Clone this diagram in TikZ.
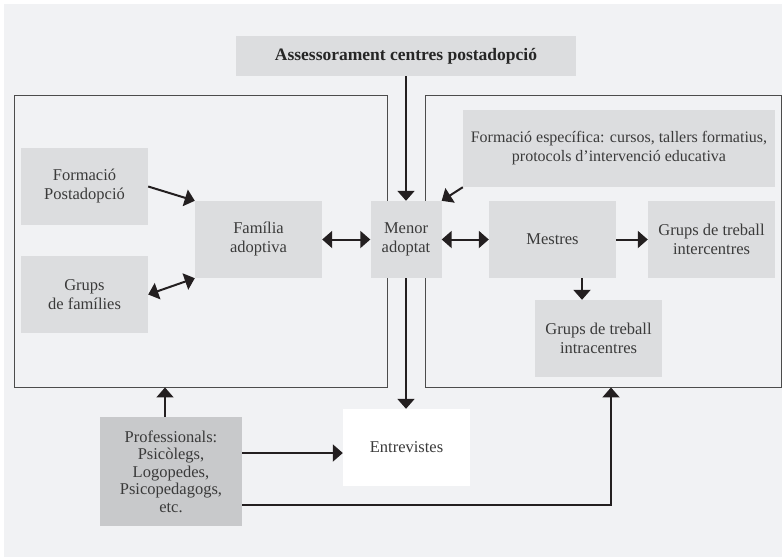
\documentclass[tikz,border=0pt]{standalone}
\usepackage{fontspec}
\setmainfont{Liberation Serif}
\usepackage{tikz}
\usetikzlibrary{arrows.meta}
\usetikzlibrary{backgrounds}
\definecolor{bgcol}{HTML}{F1F2F4}
\definecolor{boxcol}{HTML}{DCDDDF}
\definecolor{profcol}{HTML}{C8C9CB}
\definecolor{txtcol}{HTML}{3A3A3A}
\definecolor{arrcol}{HTML}{231F20}
\tikzstyle{block}=[rectangle,fill=boxcol,inner sep=0mm,minimum width=127pt,minimum height=77pt,align=center,text=txtcol,font=\fontsize{16.5}{19}\selectfont]
\tikzstyle{frame}=[rectangle,draw=black!70,line width=0.9pt,inner sep=0mm]
\tikzstyle{arr}=[draw=arrcol,line width=2pt,-{Triangle[length=10pt,width=17pt]}]
\tikzstyle{darr}=[draw=arrcol,line width=2pt,{Triangle[length=10pt,width=17pt]}-{Triangle[length=10pt,width=17pt]}]

\begin{document}
\begin{tikzpicture}[x=1pt,y=-1pt]
      \useasboundingbox (0,0) rectangle (782,558);
      \fill[bgcol] (4,4) rectangle (782,557);
      % frames
      \node[frame,minimum width=373pt,minimum height=292pt] at (200.5,241) (lframe) {};
      \node[frame,minimum width=356pt,minimum height=292pt] at (603,241) (rframe) {};
      % boxes
      \node[block,minimum width=340pt,minimum height=40pt,text=black!85,font=\fontsize{17.5}{19}\selectfont\bfseries] at (406,56) (assess) {Assessorament centres postadopció};
      \node[block] at (84.5,186.5) (fpost) {Formació\\Postadopció};
      \node[block] at (84.5,294.5) (gfam) {Grups\\de famílies};
      \node[block] at (258.5,239.5) (famil) {Família\\adoptiva};
      \node[block,minimum width=71pt] at (406,239.5) (menor) {Menor\\adoptat};
      \node[block] at (552.5,239.5) (mestres) {Mestres};
      \node[block] at (711.5,239.5) (inter) {Grups de treball\\intercentres};
      \node[block,minimum width=312pt,font=\fontsize{16}{19}\selectfont] at (619,148.5) (fesp) {Formació específica: cursos, tallers formatius,\\protocols d’intervenció educativa};
      \node[block] at (598.5,338.5) (intra) {Grups de treball\\intracentres};
      \node[block,fill=profcol,minimum width=142pt,minimum height=109pt,font=\fontsize{16.5}{17.5}\selectfont] at (171,471.5) (prof) {Professionals:\\Psicòlegs,\\Logopedes,\\Psicopedagogs,\\etc.};
      \node[block,fill=white] at (406.5,447.5) (entrev) {Entrevistes};
      % connectors
      \draw[arr] (assess.south) -- (assess.south |- menor.north);
      \draw[arr] (fesp.south west) -- (menor.north east);
      \draw[arr] (fpost.east) -- (famil.north west);
      \draw[darr] (gfam.east) -- (famil.south west);
      \draw[darr] (famil.east) -- (menor.west);
      \draw[darr] (menor.east) -- (mestres.west);
      \draw[arr] (mestres.east) -- (inter.west);
      \draw[arr] ([xshift=29.5pt]mestres.south) -- ([xshift=29.5pt]mestres.south |- intra.north);
      \draw[arr] (menor.south) -- (menor.south |- entrev.north);
      \draw[arr] ([xshift=-6pt]prof.north) -- ([xshift=-6pt]prof.north |- lframe.south);
      \draw[arr] ([yshift=18.5pt]prof.east) -- ([yshift=18.5pt]prof.east -| entrev.west);
      \draw[arr] ([yshift=-33.5pt]prof.east) -| ([xshift=8pt]rframe.south);
    \end{tikzpicture}
\end{document}
